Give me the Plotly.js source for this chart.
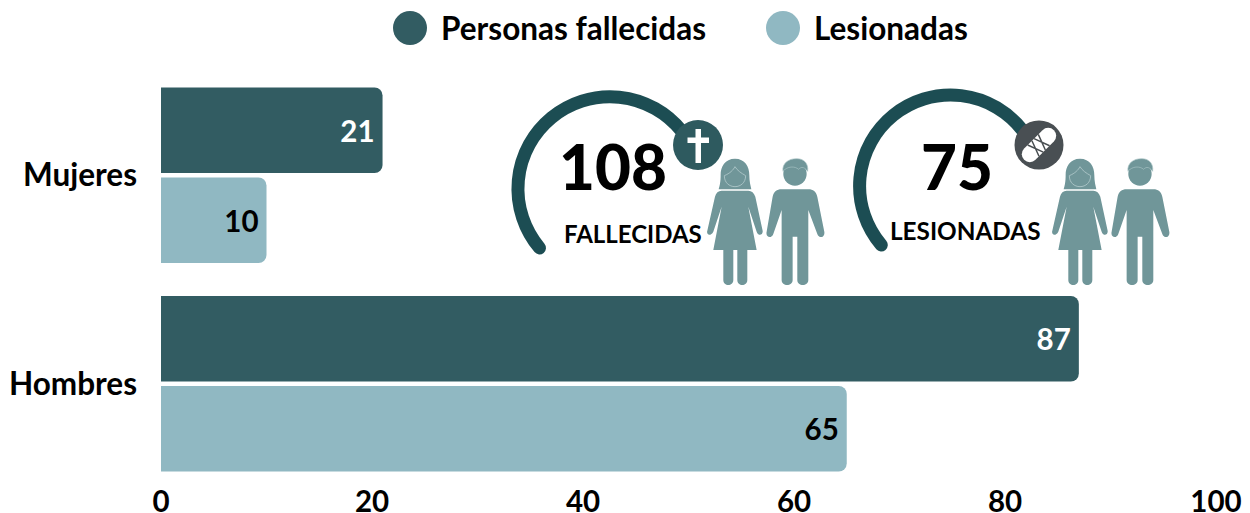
<!DOCTYPE html>
<html><head><meta charset="utf-8">
<script src="https://cdn.plot.ly/plotly-3.0.1.min.js"></script>
<style>html,body{margin:0;padding:0;background:#fff}</style></head>
<body><div id="chart" style="width:1250px;height:513px"></div>
<script>
const categories = ['Mujeres', 'Hombres'];
const fallecidas = [21, 87];
const lesionadas = [10, 65];
const xTicks = [0, 20, 40, 60, 80, 100];
const seriesNames = ['Personas fallecidas', 'Lesionadas'];
const seriesColors = ['#325c62', '#90b8c2'];
const totals = ['108', '75'];
const totalLabels = ['FALLECIDAS', 'LESIONADAS'];

const W = 1250, H = 513, L = 161, R = 34, T = 71, B = 25;
const pw = W - L - R, ph = H - T - B;
const px = x => (x - L) / pw;
const py = y => 1 - (y - T) / ph;
const FONT = 'Lato, "Open Sans", sans-serif';

const woman = `<path d="M705 236C735 236 748 260 748 285C748 305 752 318 754 328L656 328C660 315 662 305 662 285C662 260 675 236 705 236Z"/>
<path d="M673 287C690 280 700 270 705 260C712 272 725 280 737 287C737 308 722 320 705 320C688 320 673 308 673 287Z" stroke="#a9c2c4" stroke-width="3"/>
<path d="M665 332L745 332C755 332 762 338 766 350L788 452C790 465 775 470 770 455L745 380L770 510L742 510L742 600C742 620 712 620 712 600L712 510L700 510L700 600C700 620 670 620 670 600L670 510L640 510L665 380L640 455C632 470 618 465 622 452L645 350C648 338 655 332 665 332Z"/>`;
const man = `<circle cx="885" cy="282" r="35"/>
<path d="M849 274C846 250 865 236 890 236C912 236 926 250 923 274C914 262 905 258 896 268C885 258 862 258 849 274Z" stroke="#a9c2c4" stroke-width="2"/>
<path d="M845 328L925 328C940 328 948 335 952 350L973 455C976 472 958 478 952 462L925 390L925 600C925 620 892 620 892 600L892 470L878 470L878 600C878 620 845 620 845 600L845 390L820 462C814 478 796 472 800 455L818 350C822 335 830 328 845 328Z"/>`;
const people = `<g fill="#6f9699">${woman}${man}</g>`;

function arc(cx, cy, r, a0, a1) {
  const p = a => (cx + r * Math.cos(a * Math.PI / 180)).toFixed(1) + ' ' + (cy + r * Math.sin(a * Math.PI / 180)).toFixed(1);
  return 'M' + p(a0) + 'A' + r + ' ' + r + ' 0 1 1 ' + p(a1);
}

const svg = `<svg xmlns="http://www.w3.org/2000/svg" width="${W}" height="${H}" viewBox="0 0 ${W} ${H}">
<defs><filter id="s" x="-5%" y="-5%" width="110%" height="110%"><feGaussianBlur stdDeviation="0.5"/></filter></defs>
<g filter="url(#s)">
<path d="${arc(611, 190, 92, 141, 320)}" fill="none" stroke="#1f4e53" stroke-width="13" stroke-linecap="round"/>
<circle cx="698" cy="145" r="25" fill="#2f5a5f"/>
<path d="M695.500 129h5.500v8.500h8v5.500h-8v20h-5.500v-20h-8v-5.500h8z" fill="#fff"/>
<g transform="translate(500,80) scale(0.3333)">${people}</g>
<path d="${arc(953, 189, 91, 142, 320)}" fill="none" stroke="#1f4e53" stroke-width="13" stroke-linecap="round"/>
<circle cx="1039" cy="145" r="24.500" fill="#4a4f52"/>
<g transform="translate(1039,145) rotate(-45)">
<rect x="-21" y="-8" width="42" height="16" rx="8" fill="#fff"/>
<path d="M-8 -8L-2 8M-2 -8L-8 8M1 -8L7 8M7 -8L1 8" stroke="#4a4f52" stroke-width="1.500"/>
</g>
<g transform="translate(845,80) scale(0.3333)">${people}</g>
</g></svg>`;

const traces = [
  {type:'bar', orientation:'h', name:seriesNames[0], y:categories, x:fallecidas,
   text:fallecidas.map(String), textposition:'inside', insidetextanchor:'end', constraintext:'none',
   textangle:0, insidetextfont:{family:FONT, size:29.5, color:'#fff', weight:700},
   marker:{color:seriesColors[0], cornerradius:8}, showlegend:false, cliponaxis:false},
  {type:'bar', orientation:'h', name:seriesNames[1], y:categories, x:lesionadas,
   text:lesionadas.map(String), textposition:'inside', insidetextanchor:'end', constraintext:'none',
   textangle:0, insidetextfont:{family:FONT, size:29.5, color:'#000', weight:700},
   marker:{color:seriesColors[1], cornerradius:8}, showlegend:false, cliponaxis:false}
];

const txt = (text, xp, yp, size, anchor, weight) => ({
  text, x:px(xp), y:py(yp), xref:'paper', yref:'paper', xanchor:anchor||'center', yanchor:'middle',
  showarrow:false, font:{family:FONT, size, color:'#000', weight:weight||700}
});

const layout = {
  width:W, height:H, paper_bgcolor:'#fff', plot_bgcolor:'#fff',
  margin:{l:L, r:R, t:T, b:B, pad:0},
  barmode:'group', bargap:0.137, bargroupgap:0.05, showlegend:false,
  xaxis:{range:[0,100], tickvals:xTicks, showgrid:false, zeroline:false, showline:false, ticks:'',
         ticklabelstandoff:-7, automargin:false,
         tickfont:{family:FONT, size:29.5, color:'#000', weight:700}},
  yaxis:{type:'category', categoryorder:'array', categoryarray:categories, autorange:'reversed',
         showgrid:false, zeroline:false, showline:false, ticks:'', ticklabelstandoff:23, automargin:false,
         tickfont:{family:FONT, size:31.5, color:'#000', weight:700}},
  shapes:[
    {type:'circle', xref:'paper', yref:'paper', x0:px(393), x1:px(427), y0:py(11), y1:py(45), fillcolor:seriesColors[0], line:{width:0}},
    {type:'circle', xref:'paper', yref:'paper', x0:px(766), x1:px(800), y0:py(11), y1:py(45), fillcolor:seriesColors[1], line:{width:0}}
  ],
  annotations:[
    txt(seriesNames[0], 439, 28, 31.500, 'left'),
    txt(seriesNames[1], 812, 28, 31.500, 'left'),
    txt(totals[0], 613, 166, 62, 'center', 900),
    txt(totals[1], 957, 166, 62, 'center', 900),
    txt(totalLabels[0], 633, 233, 24),
    txt(totalLabels[1], 965, 230, 24.300)
  ],
  images:[{source:'data:image/svg+xml;charset=utf-8,'+encodeURIComponent(svg),
    xref:'paper', yref:'paper', x:px(0), y:py(0), sizex:W/pw, sizey:H/ph,
    xanchor:'left', yanchor:'top', sizing:'stretch', layer:'above'}]
};
Plotly.newPlot('chart', traces, layout, {displayModeBar:false, responsive:false});
</script></body></html>
